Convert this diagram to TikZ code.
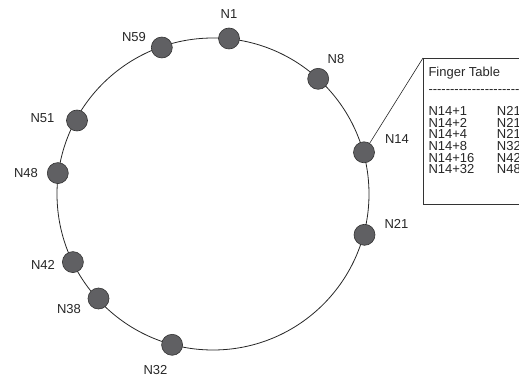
\documentclass[tikz,border=0pt]{standalone}
\usepackage{fontspec}
\setmainfont{Liberation Sans}
% a single hyphen in its own box, so that runs of them stay separate dashes
\newcommand\onehyphen{\mbox{-}}
\newcommand\hyphenrule{%
  \onehyphen\onehyphen\onehyphen\onehyphen\onehyphen\onehyphen\onehyphen\onehyphen
  \onehyphen\onehyphen\onehyphen\onehyphen\onehyphen\onehyphen\onehyphen\onehyphen
  \onehyphen\onehyphen\onehyphen\onehyphen\onehyphen\onehyphen\onehyphen\onehyphen
  \onehyphen\onehyphen\onehyphen\onehyphen}
\begin{document}
\begin{tikzpicture}[x=1pt,y=-1pt,
  ring/.style={draw=black!85, line width=0.8pt},
  peer/.style={circle, draw=black!80, line width=0.6pt, fill={rgb,255:red,96;green,96;blue,99}, minimum size=21pt, inner sep=0pt},
  peerlabel/.style={inner sep=0pt, font=\fontsize{13}{15}\selectfont, text=black!85},
  tabbox/.style={draw=black!80, line width=0.7pt, anchor=north west, minimum width=130pt, minimum height=146pt, inner sep=0pt},
  tabtext/.style={anchor=base west, inner sep=0pt, font=\fontsize{13}{15}\selectfont, text=black!85},
  link/.style={draw=black!85, line width=0.6pt}
]
\clip (0,0) rectangle (519,377);

% identifier ring
\draw[ring] (213,194) circle[radius=156pt];

% peers on the ring
\node[peer] (n1)  at (229.0, 38.5) {};
\node[peer] (n8)  at (318.2, 78.8) {};
\node[peer] (n14) at (364.0,152.3) {};
\node[peer] (n21) at (364.5,234.8) {};
\node[peer] (n32) at (172.1,344.8) {};
\node[peer] (n38) at ( 98.5,298.5) {};
\node[peer] (n42) at ( 72.9,262.1) {};
\node[peer] (n48) at ( 57.8,173.1) {};
\node[peer] (n51) at ( 77.0,120.5) {};
\node[peer] (n59) at (161.8, 47.5) {};

% peer labels
\node[peerlabel] (l1)  at (229, 14.5) {N1};
\node[peerlabel] (l8)  at (336, 59.5) {N8};
\node[peerlabel] (l14) at (397,139.5) {N14};
\node[peerlabel] (l21) at (396.5,223.5) {N21};
\node[peerlabel] (l32) at (155.5,370) {N32};
\node[peerlabel] (l38) at ( 69,309) {N38};
\node[peerlabel] (l42) at ( 43,265) {N42};
\node[peerlabel] (l48) at ( 26,173) {N48};
\node[peerlabel] (l51) at ( 42.5,118) {N51};
\node[peerlabel] (l59) at (134, 37) {N59};

% finger table of N14
\node[tabbox] (ft) at (423,58) {};
\draw[link] (n14) -- (ft.north west);

\node[tabtext] (fth) at (428.3, 76.5) {Finger Table};
\node[tabtext] (ftd) at (428.3, 93.5) {\hyphenrule};
\node[tabtext] (a1) at (428.3,116.0) {N14+1};
\node[tabtext] (a2) at (428.3,127.5) {N14+2};
\node[tabtext] (a3) at (428.3,139.0) {N14+4};
\node[tabtext] (a4) at (428.3,150.5) {N14+8};
\node[tabtext] (a5) at (428.3,162.0) {N14+16};
\node[tabtext] (a6) at (428.3,173.5) {N14+32};
\node[tabtext] (b1) at (496.7,116.0) {N21};
\node[tabtext] (b2) at (496.7,127.5) {N21};
\node[tabtext] (b3) at (496.7,139.0) {N21};
\node[tabtext] (b4) at (496.7,150.5) {N32};
\node[tabtext] (b5) at (496.7,162.0) {N42};
\node[tabtext] (b6) at (496.7,173.5) {N48};
\end{tikzpicture}
\end{document}
